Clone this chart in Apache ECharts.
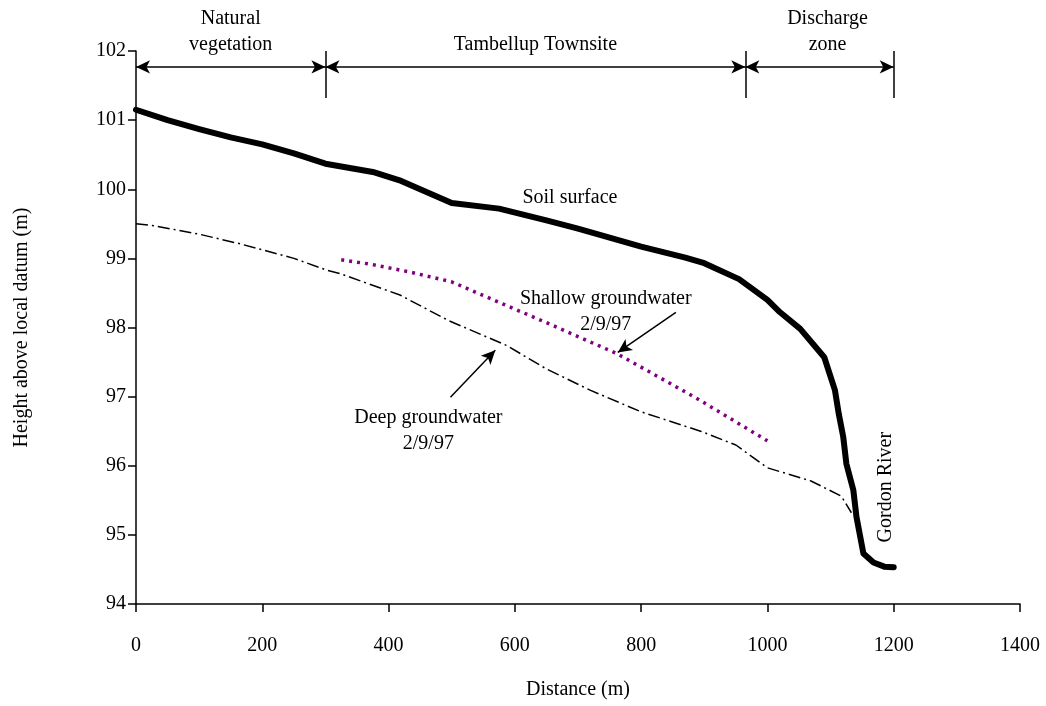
<!DOCTYPE html>
<html>
<head>
<meta charset="utf-8">
<title>Tambellup cross-section</title>
<script src="https://cdn.jsdelivr.net/npm/echarts@6/dist/echarts.min.js"></script>
<style>
  html, body { margin: 0; padding: 0; background: #fff; }
  #main { width: 1046px; height: 706px; }
</style>
</head>
<body>
<div id="main"></div>
<script>
// 地表高程 (Soil surface)
var soilDist = [0, 50, 100, 150, 200, 250, 300, 375, 420, 500, 575, 650, 700, 800, 870, 900, 955, 1000, 1020, 1052, 1090, 1107, 1113, 1120, 1125, 1136, 1141, 1152, 1168, 1185, 1200];
var soilHeight = [101.15, 101.0, 100.87, 100.75, 100.65, 100.52, 100.37, 100.25, 100.12, 99.8, 99.72, 99.55, 99.43, 99.17, 99.01, 98.93, 98.7, 98.4, 98.22, 97.98, 97.57, 97.09, 96.75, 96.42, 96.03, 95.65, 95.26, 94.73, 94.6, 94.54, 94.53];

// 深层地下水 (Deep groundwater 2/9/97)
var deepDist = [0, 30, 100, 165, 250, 302, 323, 418, 495, 587, 650, 720, 800, 894, 950, 1000, 1069, 1117, 1133];
var deepHeight = [99.5, 99.47, 99.35, 99.21, 99.0, 98.83, 98.78, 98.47, 98.1, 97.74, 97.4, 97.09, 96.78, 96.5, 96.3, 95.97, 95.78, 95.56, 95.32];

// 浅层地下水 (Shallow groundwater 2/9/97)
var shallowDist = [325, 375, 435, 500, 576, 650, 762, 889, 1000];
var shallowHeight = [98.98, 98.91, 98.8, 98.66, 98.36, 98.07, 97.62, 96.97, 96.36];

// 分区
var zoneEdges = [0, 300, 965, 1200];
var zoneNames = ["Natural\nvegetation", "Tambellup Townsite", "Discharge\nzone"];

var FONT = "'Liberation Serif', 'Times New Roman', serif";

function pairs(xs, ys) {
  return xs.map(function (x, i) { return [x, ys[i]]; });
}

var chartDom = document.getElementById("main");
var myChart = echarts.init(chartDom, null, { renderer: "canvas" });

// 分区箭头
var arrowY = 101.77;
var barTop = 102;
var barBottom = 101.32;
var zoneLines = [];
for (var i = 0; i < zoneNames.length; i++) {
  zoneLines.push([
    {
      coord: [zoneEdges[i], arrowY],
      symbol: "arrow",
      label: {
        show: true,
        formatter: zoneNames[i],
        position: "insideMiddleTop",
        distance: 9,
        offset: i === 2 ? [8, 0] : [0, 0]
      }
    },
    { coord: [zoneEdges[i + 1], arrowY], symbol: "arrow" }
  ]);
}
for (var j = 1; j < zoneEdges.length; j++) {
  zoneLines.push([
    { coord: [zoneEdges[j], barTop], symbol: "none" },
    { coord: [zoneEdges[j], barBottom], symbol: "none" }
  ]);
}
// 标注箭头
zoneLines.push([
  { coord: [855, 98.22], symbol: "none" },
  { coord: [763, 97.64], symbol: "arrow" }
]);
zoneLines.push([
  { coord: [498, 96.99], symbol: "none" },
  { coord: [569, 97.67], symbol: "arrow" }
]);

var textStyle = { color: "#000", fontFamily: FONT, fontSize: 20, lineHeight: 26 };

var option = {
  backgroundColor: "#fff",
  animation: false,
  grid: { left: 136, right: 26, top: 51, bottom: 102, containLabel: false },
  xAxis: {
    type: "value",
    min: 0,
    max: 1400,
    interval: 200,
    name: "Distance (m)",
    nameLocation: "middle",
    nameGap: 76,
    nameTextStyle: { color: "#000", fontFamily: FONT, fontSize: 20 },
    axisLine: { lineStyle: { color: "#000", width: 1.5 } },
    axisTick: { show: true, inside: false, length: 8, lineStyle: { color: "#000", width: 1.5 } },
    axisLabel: {
      color: "#000",
      fontFamily: FONT,
      fontSize: 20,
      margin: 32,
      formatter: function (v) { return String(v); }
    },
    splitLine: { show: false }
  },
  yAxis: {
    type: "value",
    min: 94,
    max: 102,
    interval: 1,
    name: "Height above local datum (m)",
    nameLocation: "middle",
    nameGap: 104,
    nameTextStyle: { color: "#000", fontFamily: FONT, fontSize: 20 },
    axisLine: { show: true, lineStyle: { color: "#000", width: 1.5 } },
    axisTick: { show: true, inside: false, length: 8, lineStyle: { color: "#000", width: 1.5 } },
    axisLabel: { color: "#000", fontFamily: FONT, fontSize: 20, margin: 10 },
    splitLine: { show: false }
  },
  series: [
    {
      name: "Deep groundwater",
      type: "line",
      data: pairs(deepDist, deepHeight),
      showSymbol: false,
      lineStyle: { color: "#000", width: 1.5, type: [12, 4, 2, 4] }
    },
    {
      name: "Shallow groundwater",
      type: "line",
      data: pairs(shallowDist, shallowHeight),
      showSymbol: false,
      lineStyle: { color: "#800080", width: 3.5, type: [3, 5] }
    },
    {
      name: "Soil surface",
      type: "line",
      data: pairs(soilDist, soilHeight),
      showSymbol: false,
      lineStyle: { color: "#000", width: 6, cap: "round", join: "round" }
    },
    {
      name: "annotations",
      type: "line",
      data: [],
      silent: true,
      markLine: {
        silent: true,
        symbolSize: [10, 14],
        lineStyle: { color: "#000", width: 1.5, type: "solid" },
        label: textStyle,
        data: zoneLines
      },
      markPoint: {
        silent: true,
        symbol: "circle",
        symbolSize: 0,
        label: Object.assign({ show: true, position: "inside" }, textStyle),
        data: [
          { coord: [612, 99.87], label: { formatter: "Soil surface", align: "left" } },
          { coord: [744, 98.23], label: { formatter: "Shallow groundwater\n2/9/97" } },
          { coord: [463, 96.5], label: { formatter: "Deep groundwater\n2/9/97" } },
          { coord: [1188, 95.69], label: { formatter: "Gordon River", rotate: 90 } }
        ]
      }
    }
  ]
};

option && myChart.setOption(option);
</script>
</body>
</html>
